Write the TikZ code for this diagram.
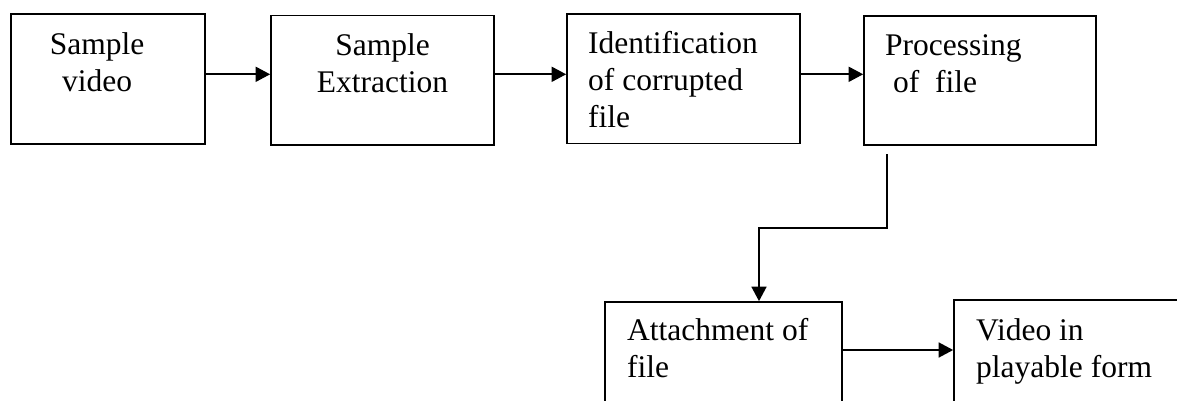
\documentclass[tikz,border=0pt]{standalone}
\usepackage{fontspec}
\setmainfont{Liberation Serif}
\usetikzlibrary{arrows.meta}
\begin{document}
\begin{tikzpicture}[x=1pt,y=-1pt,
    blk/.style={draw,line width=1.7pt,inner sep=0pt,minimum height=129.4pt},
    lbl/.style={inner sep=0pt,align=left,font=\fontsize{31.5pt}{37pt}\selectfont},
    arr/.style={line width=1.7pt,-{Triangle[length=14.5pt,width=15pt]}}]
      \useasboundingbox (0,0) rectangle (1177,401);
      % Sample video
      \node[blk,minimum width=194.3pt] (video) at (107.9,79) {};
      \node[lbl,align=center,anchor=base] (videotxt) at (97,92) {Sample\\video};
      % Sample extraction
      \node[blk,minimum width=223pt] (extract) at (382.5,80.3) {};
      \node[lbl,align=center,anchor=base] (extracttxt) at (382.5,93) {Sample\\Extraction};
      % Identification
      \node[blk,minimum width=233pt] (ident) at (683.5,78.8) {};
      \node[lbl,anchor=base west] (identtxt) at (588,128) {Identification\\of corrupted\\file};
      % Processing
      \node[blk,minimum width=232pt] (proc) at (980,80.5) {};
      \node[lbl,anchor=base west] (proctxt) at (885,93) {Processing\\~of~~file};
      % Attachment
      \node[blk,minimum width=237pt] (attach) at (723.5,366.7) {};
      \node[lbl,anchor=base west] (attachtxt) at (627,377) {Attachment of\\file};
      % Playable video
      \node[blk,minimum width=236pt] (play) at (1072,364.7) {};
      \node[lbl,anchor=base west] (playtxt) at (976,377) {Video in\\playable form};
      % Arrows
      \coordinate (drop) at (887,154);
      \draw[arr] (video.east |- 0,74.3) -- (extract.west |- 0,74.3);
      \draw[arr] (extract.east |- 0,74.3) -- (ident.west |- 0,74.3);
      \draw[arr] ([xshift=-2pt]ident.east |- 0,74.3) -- (proc.west |- 0,74.3);
      \draw[arr] (drop) -- (887,228) -| ([xshift=35.5pt]attach.north);
      \draw[arr] (attach.east |- 0,350) -- (play.west |- 0,350);
\end{tikzpicture}
\end{document}
